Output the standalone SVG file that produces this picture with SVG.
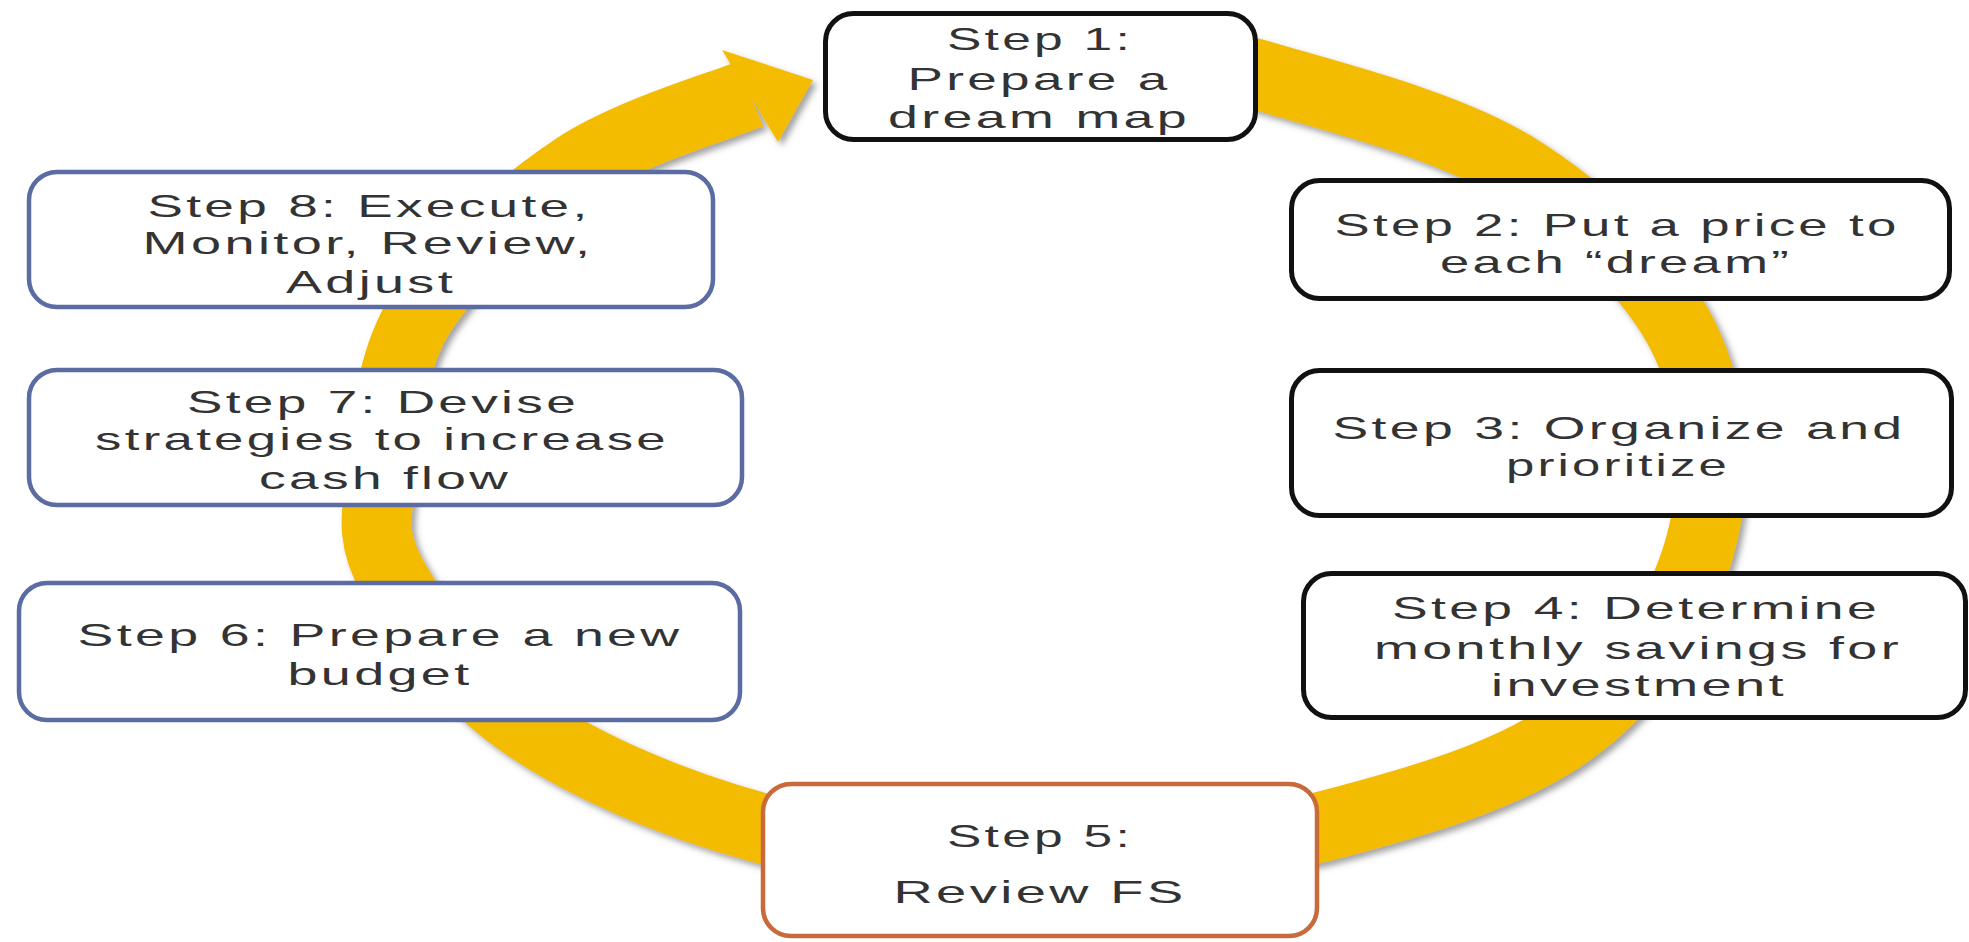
<svg xmlns="http://www.w3.org/2000/svg" width="1969" height="942" viewBox="0 0 1969 942">
<defs>
<filter id="sh" x="-10%" y="-10%" width="120%" height="120%">
<feDropShadow dx="4" dy="4" stdDeviation="3" flood-color="#555" flood-opacity="0.55"/>
</filter>
<style>
.box{fill:#fff;stroke-width:5}
.blk{stroke:#111}
.blu{stroke:#5b6ca3;stroke-width:4.5}
.org{stroke:#c96a3c;stroke-width:4.5}
text{font-family:"Liberation Sans",Arial,sans-serif;font-size:32px;fill:#333;text-anchor:middle;letter-spacing:2px}
.band{fill:none;stroke:#f4bc00;stroke-width:70}
</style>
</defs>
<rect width="1969" height="942" fill="#fff"/>
<g id="connectors" filter="url(#sh)">
<path class="band" d="M1180,66 C1195,68 1214,61 1270,78 C1326,95 1446,124 1515,167 C1584,210 1653,275 1684,338 C1715,401 1718,481 1700,546 C1682,611 1638,681 1575,728 C1513,775 1414,803 1325,826 C1236,849 1137,866 1043,866 C949,866 847,852 761,828 C675,805 586,767 525,725 C464,683 417,621 393,578 C369,536 377,514 382,470 C387,426 389,363 421,313 C453,263 520,205 575,168 C630,132 721,106 750,94"/>
<polygon points="722,50 813,80 778,142" fill="#f4bc00"/>
</g>
<g id="step1">
<rect class="box blk" x="825.5" y="13.5" width="430" height="126" rx="28"/>
<text x="1040" y="50" textLength="186" lengthAdjust="spacingAndGlyphs">Step 1:</text>
<text x="1039" y="90" textLength="263" lengthAdjust="spacingAndGlyphs">Prepare a</text>
<text x="1039" y="128" textLength="302" lengthAdjust="spacingAndGlyphs">dream map</text>
</g>
<g id="step2">
<rect class="box blk" x="1291.5" y="180.5" width="658" height="118" rx="28"/>
<text x="1617" y="236" textLength="565" lengthAdjust="spacingAndGlyphs">Step 2: Put a price to</text>
<text x="1616" y="273" textLength="352" lengthAdjust="spacingAndGlyphs">each “dream”</text>
</g>
<g id="step3">
<rect class="box blk" x="1291.5" y="370.5" width="660" height="145" rx="28"/>
<text x="1619" y="439" textLength="573" lengthAdjust="spacingAndGlyphs">Step 3: Organize and</text>
<text x="1618" y="476" textLength="224" lengthAdjust="spacingAndGlyphs">prioritize</text>
</g>
<g id="step4">
<rect class="box blk" x="1303.5" y="573.5" width="662" height="144" rx="28"/>
<text x="1636" y="619" textLength="488" lengthAdjust="spacingAndGlyphs">Step 4: Determine</text>
<text x="1638" y="659" textLength="528" lengthAdjust="spacingAndGlyphs">monthly savings for</text>
<text x="1639" y="696" textLength="296" lengthAdjust="spacingAndGlyphs">investment</text>
</g>
<g id="step5">
<rect class="box org" x="763" y="784" width="554" height="152" rx="28"/>
<text x="1040" y="847" textLength="186" lengthAdjust="spacingAndGlyphs">Step 5:</text>
<text x="1040" y="903" textLength="293" lengthAdjust="spacingAndGlyphs">Review FS</text>
</g>
<g id="step6">
<rect class="box blu" x="19" y="583" width="721" height="137" rx="28"/>
<text x="380" y="646" textLength="605" lengthAdjust="spacingAndGlyphs">Step 6: Prepare a new</text>
<text x="380" y="685" textLength="185" lengthAdjust="spacingAndGlyphs">budget</text>
</g>
<g id="step7">
<rect class="box blu" x="29" y="370" width="713" height="135" rx="28"/>
<text x="383" y="413" textLength="392" lengthAdjust="spacingAndGlyphs">Step 7: Devise</text>
<text x="382" y="450" textLength="574" lengthAdjust="spacingAndGlyphs">strategies to increase</text>
<text x="385" y="489" textLength="252" lengthAdjust="spacingAndGlyphs">cash flow</text>
</g>
<g id="step8">
<rect class="box blu" x="29" y="172" width="684" height="135" rx="28"/>
<text x="369" y="217" textLength="443" lengthAdjust="spacingAndGlyphs">Step 8: Execute,</text>
<text x="368" y="254" textLength="451" lengthAdjust="spacingAndGlyphs">Monitor, Review,</text>
<text x="371" y="293" textLength="170" lengthAdjust="spacingAndGlyphs">Adjust</text>
</g>
</svg>
